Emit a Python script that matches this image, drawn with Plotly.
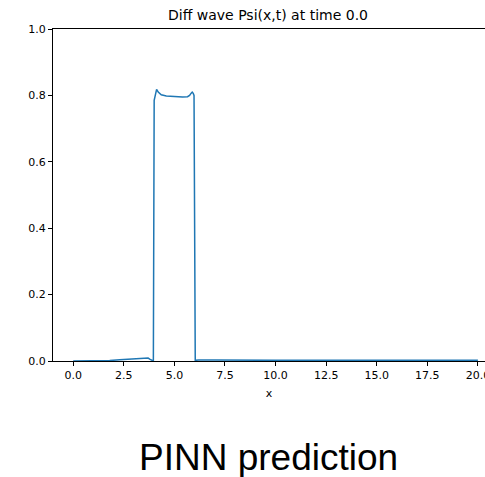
import plotly.graph_objects as go

# Sampled prediction of Psi(x, t=0)
x_vals = [0.0, 1.0, 1.4, 1.8, 2.3, 2.8, 3.2, 3.45, 3.6, 3.7, 3.8, 3.9, 3.96,
          4.0, 4.06, 4.12, 4.2, 4.35, 4.6, 5.0, 5.4, 5.65, 5.75, 5.82, 5.88,
          5.93, 5.97, 6.03, 6.2, 7.0, 8.0, 10.0, 12.0, 15.0, 18.0, 20.0]
psi_vals = [0.0, 0.0, 0.0, 0.0015, 0.0035, 0.0055, 0.0075, 0.009, 0.0095, 0.009,
            0.005, 0.001, 0.0, 0.785, 0.805, 0.818, 0.81, 0.802, 0.798, 0.796,
            0.795, 0.796, 0.8, 0.806, 0.81, 0.806, 0.8, 0.002, 0.003, 0.003,
            0.002, 0.002, 0.002, 0.002, 0.002, 0.002]

x_ticks = [0.0, 2.5, 5.0, 7.5, 10.0, 12.5, 15.0, 17.5, 20.0]
y_ticks = [0.0, 0.2, 0.4, 0.6, 0.8, 1.0]

title_text = "Diff wave Psi(x,t) at time 0.0"
caption_text = "PINN prediction"

fig = go.Figure()
fig.add_trace(go.Scatter(x=x_vals, y=psi_vals, mode="lines",
                         line=dict(color="#1f77b4", width=1.5),
                         showlegend=False))

axis_font = dict(family="DejaVu Sans", size=11, color="black")

fig.update_layout(
    width=485, height=477,
    margin=dict(l=53, r=0, t=29, b=116, autoexpand=False),
    plot_bgcolor="white", paper_bgcolor="white",
    xaxis=dict(range=[-1.0, 20.35], tickvals=x_ticks,
               ticktext=[f"{v:.1f}" for v in x_ticks],
               ticklabeloverflow="allow", automargin=False,
               showline=True, linecolor="black", linewidth=1, mirror=True,
               ticks="outside", ticklen=4, tickcolor="black",
               showgrid=False, zeroline=False, tickfont=axis_font,
               title=dict(text="x", font=axis_font, standoff=8)),
    yaxis=dict(range=[0.0, 1.0], tickvals=y_ticks,
               ticktext=[f"{v:.1f}" for v in y_ticks],
               automargin=False,
               showline=True, linecolor="black", linewidth=1,
               ticks="outside", ticklen=4, tickcolor="black",
               showgrid=False, zeroline=False, tickfont=axis_font),
    annotations=[
        dict(text=title_text, xref="paper", yref="paper", x=0.497, y=1.0,
             yshift=14, xanchor="center", yanchor="middle", showarrow=False,
             font=dict(family="DejaVu Sans", size=14, color="black")),
        dict(text=caption_text, xref="paper", yref="paper", x=0.499, y=0.0,
             yshift=-96, xanchor="center", yanchor="middle", showarrow=False,
             font=dict(family="Liberation Sans", size=37, color="black")),
    ],
)

fig.write_html("out.html")
